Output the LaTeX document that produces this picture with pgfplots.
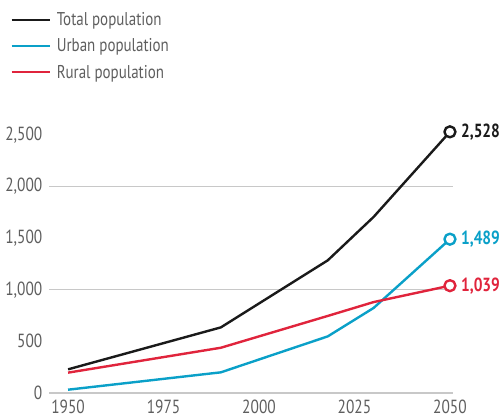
\documentclass[border=0pt]{standalone}
\usepackage{pgfplots}
\pgfplotsset{compat=1.18}
\usepackage{fontspec}
\setmainfont[FakeStretch=0.81]{PT Sans}
\definecolor{totc}{HTML}{1A1A1A}
\definecolor{urbc}{HTML}{0AA0C8}
\definecolor{rurc}{HTML}{E0243C}
\definecolor{gridc}{HTML}{C8C8C8}
\definecolor{txtc}{HTML}{5E5E5E}
\begin{document}
\begin{tikzpicture}
\path[use as bounding box] (0,0) rectangle (503bp,420bp);
\begin{axis}[
  at={(49bp,27bp)}, anchor=south west,
  scale only axis, width=404bp, height=268.6bp,
  xmin=1945, xmax=2050.8, ymin=0, ymax=2600,
  axis x line=bottom, axis y line=left,
  axis line style={draw=none}, clip=false,
  xtick={1950,1975,2000,2025,2050},
  xticklabels={1950,1975,2000,2025,2050},
  ytick={0,500,1000,1500,2000,2500},
  yticklabels={0,500,{1,000},{1,500},{2,000},{2,500}},
  extra y ticks={0,1000,2000}, extra y tick labels={},
  extra y tick style={grid=major, major grid style={gridc, line width=1.2bp}},
  tick style={draw=none},
  ticklabel style={font=\fontsize{19bp}{20bp}\selectfont, text=txtc},
  yticklabel style={anchor=east, xshift=-1bp},
  xticklabel style={anchor=north, yshift=-1bp},
  legend style={draw=none, fill=none, at={(-0.096,1.42)}, anchor=north west,
    font=\fontsize{18.5bp}{20bp}\selectfont, text=txtc, row sep=9.5bp, inner sep=0pt,
    nodes={inner sep=1bp}},
  legend cell align=left,
  legend image code/.code={\draw[#1, line width=2.4bp] (0bp,0bp) -- (38bp,0bp);},
  /tikz/every odd column/.append style={column sep=5bp},
  every axis plot/.append style={line width=2.4bp, line join=round},
]
\addplot[totc, mark=none] coordinates {(1950,229) (1990,635) (2018,1284) (2030,1704) (2050,2528)};
\addlegendentry{Total population}
\addplot[urbc, mark=none] coordinates {(1950,32) (1990,200) (2018,548) (2030,823) (2050,1489)};
\addlegendentry{Urban population}
\addplot[rurc, mark=none] coordinates {(1950,197) (1990,438) (2018,746) (2030,880) (2050,1039)};
\addlegendentry{Rural population}
\addplot[totc, only marks, mark=*, mark size=5.5bp, mark options={fill=white, line width=2.4bp}, forget plot] coordinates {(2050,2528)};
\addplot[urbc, only marks, mark=*, mark size=5.5bp, mark options={fill=white, line width=2.4bp}, forget plot] coordinates {(2050,1489)};
\addplot[rurc, only marks, mark=*, mark size=5.5bp, mark options={fill=white, line width=2.4bp}, forget plot] coordinates {(2050,1039)};
\node[anchor=west, text=totc, font=\fontsize{19bp}{20bp}\selectfont\bfseries, inner sep=0pt] at (axis cs:2050,2528) [xshift=11bp] {2,528};
\node[anchor=west, text=urbc, font=\fontsize{19bp}{20bp}\selectfont\bfseries, inner sep=0pt] at (axis cs:2050,1489) [xshift=11bp] {1,489};
\node[anchor=west, text=rurc, font=\fontsize{19bp}{20bp}\selectfont\bfseries, inner sep=0pt] at (axis cs:2050,1039) [xshift=11bp] {1,039};
\end{axis}
\end{tikzpicture}
\end{document}
